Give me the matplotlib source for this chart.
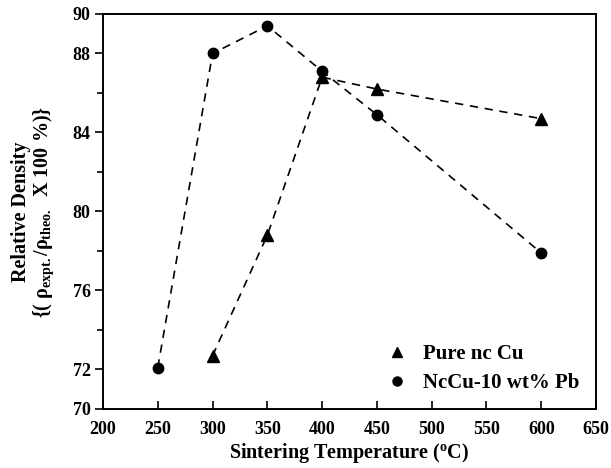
import matplotlib
matplotlib.use("Agg")
import matplotlib.pyplot as plt
from matplotlib.lines import Line2D
from matplotlib.ticker import MultipleLocator

plt.rcParams['font.family'] = ['Liberation Serif', 'DejaVu Serif']
plt.rcParams['font.weight'] = 'bold'
plt.rcParams['mathtext.fontset'] = 'custom'
plt.rcParams['mathtext.rm'] = 'Liberation Serif:bold'
plt.rcParams['mathtext.it'] = 'Liberation Serif:bold'
plt.rcParams['mathtext.bf'] = 'Liberation Serif:bold'

# sintering temperatures (C) and relative densities (%)
temp_cu = [300, 350, 400, 450, 600]
dens_cu = [72.7, 78.8, 86.8, 86.2, 84.7]
temp_pb = [250, 300, 350, 400, 450, 600]
dens_pb = [72.1, 88.0, 89.4, 87.1, 84.9, 77.9]
y_labels = [70, 72, 76, 80, 84, 88, 90]

fig = plt.figure(figsize=(6.11, 4.68), dpi=100)
ax = fig.add_axes([0.1686, 0.1261, 0.8069, 0.844])

dash = (0, (5, 4))
ax.plot(temp_cu, dens_cu, color='black', ls=dash, lw=1.2,
        marker='^', ms=8)
ax.plot(temp_pb, dens_pb, color='black', ls=dash, lw=1.2,
        marker='o', ms=7.5)

ax.set_xlim(200, 650)
ax.set_ylim(70, 90)
ax.xaxis.set_major_locator(MultipleLocator(50))
ax.set_yticks(y_labels)
ax.yaxis.set_minor_locator(MultipleLocator(2))
ax.tick_params(axis='x', direction='in', length=6, width=1.2, labelsize=13, pad=9)
ax.tick_params(axis='y', which='major', direction='out', length=6, width=1.2,
               labelsize=13, pad=3)
ax.tick_params(axis='y', which='minor', direction='out', length=4, width=1.2)
for lab in ax.get_xticklabels() + ax.get_yticklabels():
    lab.set_fontweight('bold')
for s in ax.spines.values():
    s.set_linewidth(1.4)

ax.set_xlabel('Sintering Temperature ($^{\\mathrm{o}}$C)', fontsize=14.5,
              fontweight='bold', labelpad=2)
ax.set_ylabel('Relative Density\n{( $\\rho_{\\mathrm{expt.}}/\\rho_{\\mathrm{theo.}}$  X 100 %)}',
              fontsize=14.5, fontweight='bold', labelpad=12, linespacing=1.0)

handles = [Line2D([], [], color='black', ls='none', marker='^', ms=7),
           Line2D([], [], color='black', ls='none', marker='o', ms=6.5)]
ax.legend(handles, ['Pure nc Cu', 'NcCu-10 wt% Pb'],
          loc='center left', bbox_to_anchor=(0.575, 0.102), frameon=False,
          prop={'family': 'Liberation Serif', 'weight': 'bold', 'size': 15},
          handlelength=1.0, handletextpad=0.75, labelspacing=0.45,
          borderpad=0, borderaxespad=0)

fig.savefig('out.png', dpi=100)
